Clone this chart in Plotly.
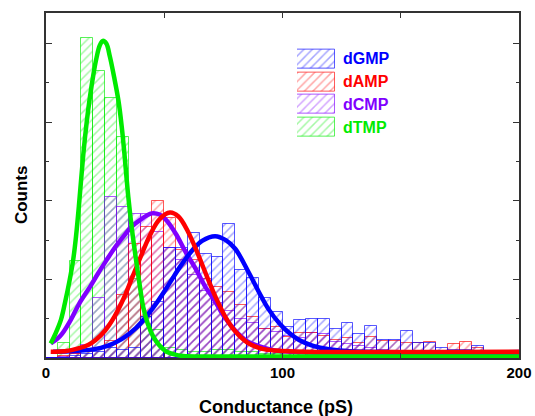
import plotly.graph_objects as go

# ---------------- data ----------------
bin_left = list(range(0, 185, 5))          # histogram bins, 5 pS wide
bin_width = 5

dGMP_counts = [0, 0, 0.5, 1, 1.5, 2.5, 2, 2.5, 10.5, 14.3, 27.9, 27.9, 31.7, 26.4, 25.8, 34.1,
               22.4, 20.4, 15.3, 11.6, 7.9, 9.7, 9.9, 9.9, 7.5, 8.8, 6.0, 8.1, 4.7, 4.7, 6.8,
               3.7, 3.7, 2.5, 2.0, 2.0, 3.0]
dAMP_counts = [0, 0.5, 1, 1.5, 2.5, 4.4, 16, 29, 33.4, 40, 35.5, 27.5, 25, 20, 18, 16.8,
               13.5, 10.5, 7.4, 8, 5.4, 6.4, 6.4, 5.6, 4.5, 5.1, 3.9, 5.3, 4.2, 4.2, 3.7,
               3.7, 4.1, 1.2, 3.6, 4.0, 2.5]
dCMP_counts = [0, 0.3, 1, 3.3, 15.2, 41, 38.5, 36.6, 36.6, 32, 28, 25, 21, 17, 14, 12,
               10, 9, 7.5, 6.5, 5.5, 5, 6.3, 6, 4, 3.5, 3, 2.5, 2, 1.5, 1, 1, 0.8, 0.5, 0.5,
               0.5, 0]
dTMP_counts = [0, 3.7, 24.7, 81.5, 73.1, 66.2, 56.3, 20, 10.5, 7, 2.5, 2, 1.5, 1.5, 2, 2,
               1.5, 1.5, 1, 1, 0.5, 0.5, 0.5, 0.5, 0.5, 0.3, 0.3, 0.3, 0, 0, 0, 0, 0, 0, 0,
               0, 0]

# fitted curves, points
dGMP_fit_x = [3, 10, 20, 26, 32, 38, 43, 47, 52, 57, 62, 66, 71.5, 76, 80, 85.5, 90, 94,
              99, 103, 107, 112, 116, 124, 135, 200]
dGMP_fit_y = [1.6, 1.7, 2.2, 3.1, 4.8, 7.6, 11, 14.2, 18.8, 23.5, 27.5, 29.8, 31, 30, 27.8,
              22, 16.8, 12.5, 8.6, 6.3, 4.6, 3.3, 2.6, 1.9, 1.6, 1.5]
dAMP_fit_x = [2, 8, 14, 18, 21, 25, 29, 33, 36, 40, 44, 48, 52.4, 56, 60, 64, 68, 72, 76,
              80, 85, 90, 95, 100, 110, 200]
dAMP_fit_y = [1.6, 1.7, 2.5, 3.4, 4.6, 7.0, 10.6, 15.4, 19.8, 25.7, 31.3, 35.3, 37, 36,
              32.2, 26.8, 20.8, 15.1, 10.3, 6.8, 4.0, 2.6, 2.0, 1.8, 1.6, 1.6]
dCMP_fit_x = [2, 6, 10, 14, 18.6, 22, 25.6, 29, 32.7, 36, 39.7, 44.7, 48, 51, 55, 59, 63,
              67, 71.4, 75, 80, 85, 90, 96, 100, 110, 200]
dCMP_fit_y = [3.7, 5.6, 9.2, 13.8, 18.1, 21.5, 24.9, 28, 30.9, 33.3, 35.1, 36.8, 36.5, 35,
              31.5, 27, 23, 18.5, 14.5, 10.8, 7.0, 4.3, 3.0, 2.0, 1.7, 1.4, 1.2]
dTMP_fit_x = [2, 4, 6.3, 8, 9.9, 11.5, 12.7, 14.1, 15.8, 17.2, 18.6, 20, 21.4, 22.7, 24,
              25.5, 27, 28.8, 30.6, 32, 33, 34.8, 36.5, 38.3, 40, 41.1, 43, 45.4, 48, 51,
              55, 58, 65, 80, 200]
dTMP_fit_y = [3.7, 6.2, 9.7, 14, 19.5, 25, 31, 40, 52, 60, 66.5, 72, 76.5, 79.5, 80.7,
              80, 76.7, 71.5, 65.6, 59, 53, 41, 32, 24, 17, 13, 8.8, 5.4, 3.2, 1.6, 0.8,
              0.5, 0.4, 0.4, 0.4]

series_names = ["dGMP", "dAMP", "dCMP", "dTMP"]
x_ticks = [0, 100, 200]

# ---------------- styling ----------------
colors = {"dGMP": "0,0,255", "dAMP": "255,0,0", "dCMP": "128,0,255", "dTMP": "0,235,0"}
counts = {"dGMP": dGMP_counts, "dAMP": dAMP_counts, "dCMP": dCMP_counts, "dTMP": dTMP_counts}
fits = {"dGMP": (dGMP_fit_x, dGMP_fit_y), "dAMP": (dAMP_fit_x, dAMP_fit_y),
        "dCMP": (dCMP_fit_x, dCMP_fit_y), "dTMP": (dTMP_fit_x, dTMP_fit_y)}
FONT = "Liberation Sans, Arial, sans-serif"

fig = go.Figure()


def hatch(name):
    c = colors[name]
    return dict(color="rgba(0,0,0,0)",
                line=dict(color=f"rgba({c},0.65)", width=1),
                pattern=dict(shape="/", fgcolor=f"rgba({c},0.7)",
                             bgcolor="rgba(0,0,0,0)", size=6, solidity=0.25))


for name in ["dTMP", "dCMP", "dAMP", "dGMP"]:
    fig.add_trace(go.Bar(x=bin_left, y=counts[name], width=bin_width, offset=0,
                         marker=hatch(name), name=name, showlegend=False))

for name in ["dCMP", "dGMP", "dAMP", "dTMP"]:
    fx, fy = fits[name]
    fig.add_trace(go.Scatter(x=fx, y=fy, mode="lines",
                             line=dict(color=f"rgb({colors[name]})", width=4.5,
                                       shape="spline", smoothing=1.0),
                             showlegend=False, hoverinfo="skip"))

# legend swatches drawn as bars on an auxiliary axis
for i, name in enumerate(series_names):
    fig.add_trace(go.Bar(x=[1], y=[i], base=0, orientation="h", width=0.84,
                         marker=hatch(name), xaxis="x2", yaxis="y2",
                         showlegend=False, hoverinfo="skip"))
    fig.add_annotation(x=0.6247, xref="paper", y=i, yref="y2", text=f"<b>{name}</b>",
                       showarrow=False, xanchor="left", yanchor="middle",
                       font=dict(family=FONT, size=16, color=f"rgb({colors[name]})"))

axis_common = dict(showline=True, linecolor="#333", linewidth=1.5, mirror="ticks",
                   ticks="inside", tickcolor="#333", tickwidth=1.2, showgrid=False,
                   zeroline=False, automargin=False)

fig.update_layout(
    width=535, height=416, autosize=False,
    margin=dict(l=46, r=16, t=13, b=58, autoexpand=False),
    plot_bgcolor="white", paper_bgcolor="white",
    barmode="overlay", bargap=0, showlegend=False,
    font=dict(family=FONT, size=15, color="black"),
    xaxis=dict(range=[0, 200], tickvals=x_ticks, ticktext=[f"<b>{t}</b>" for t in x_ticks],
               ticklen=5, tickfont=dict(size=15),
               minor=dict(dtick=50, ticks="inside", ticklen=5, tickcolor="#333"),
               **axis_common),
    yaxis=dict(range=[0, 87.79], dtick=20, ticklen=6, showticklabels=False,
               minor=dict(dtick=10, ticks="inside", ticklen=3, tickcolor="#333"),
               **axis_common),
    xaxis2=dict(domain=[0.5307, 0.611], anchor="y2", range=[0, 1], visible=False,
                fixedrange=True, automargin=False),
    yaxis2=dict(domain=[0.6364, 0.8996], anchor="x2", range=[3.5, -0.5], visible=False,
                fixedrange=True, automargin=False),
)

fig.add_annotation(x=0.486, xref="paper", y=-0.142, yref="paper",
                   text="<b>Conductance (pS)</b>", showarrow=False,
                   xanchor="center", yanchor="middle", font=dict(family=FONT, size=18))
fig.add_annotation(x=-0.0529, xref="paper", y=0.475, yref="paper",
                   text="<b>Counts</b>", showarrow=False, textangle=-90,
                   xanchor="center", yanchor="middle", font=dict(family=FONT, size=17))

fig.write_html("out.html", config={"displayModeBar": False},
               post_script="document.body.style.margin='0';document.body.style.overflow='hidden';")
